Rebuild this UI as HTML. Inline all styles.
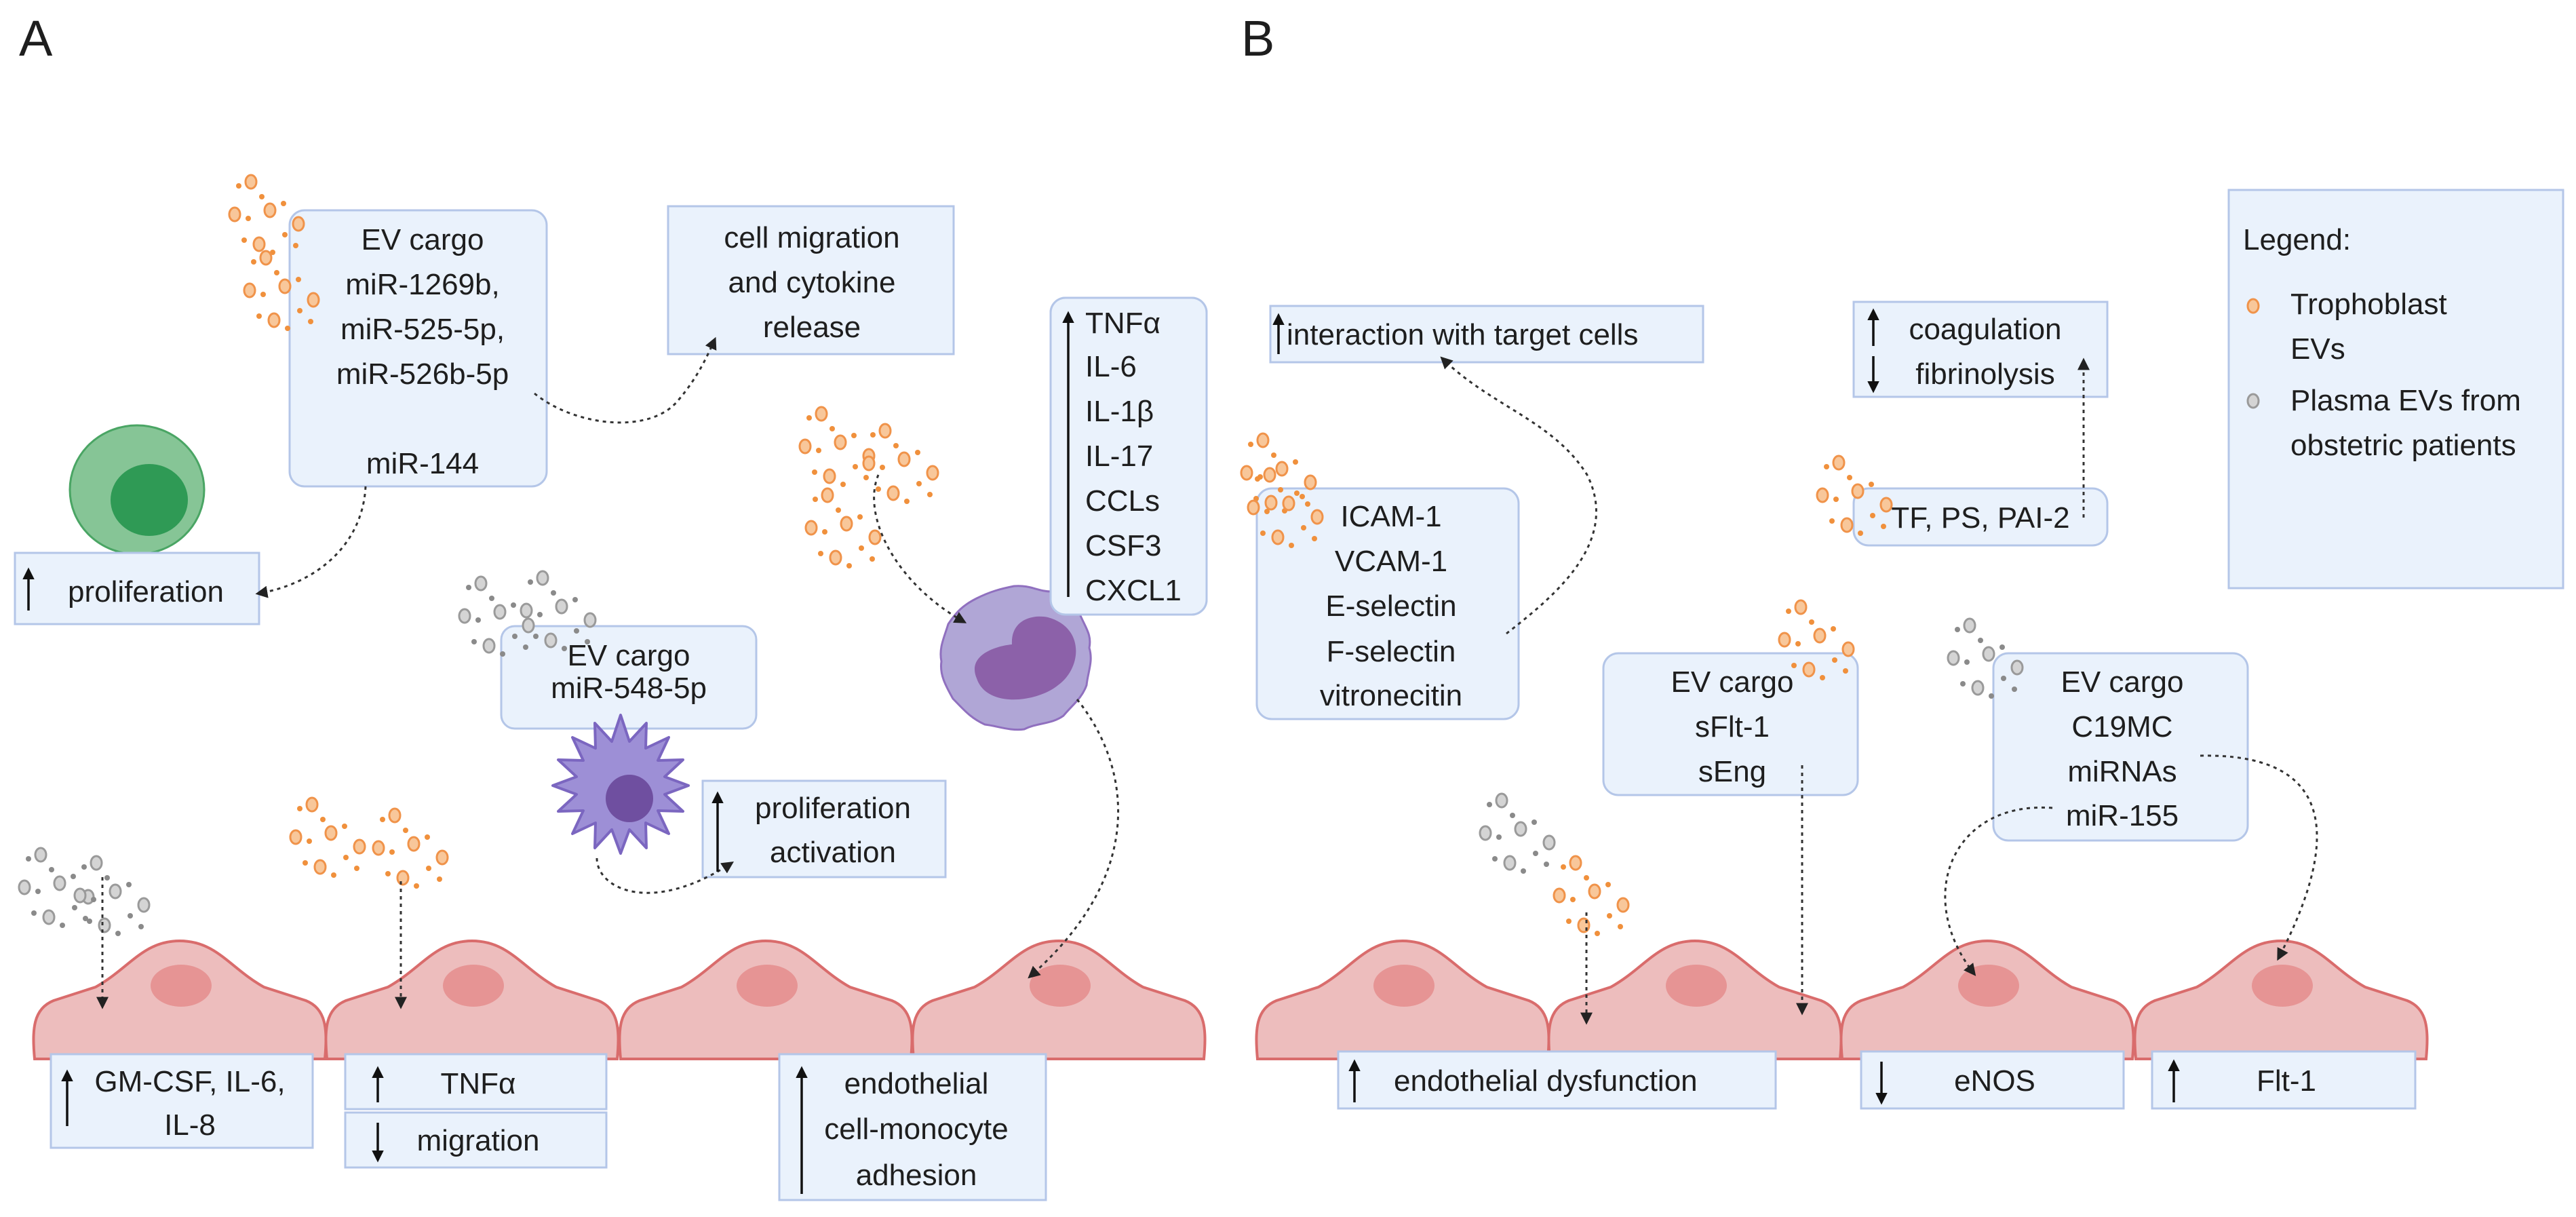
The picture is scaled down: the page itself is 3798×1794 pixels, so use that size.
<!DOCTYPE html>
<html><head><meta charset="utf-8"><style>
html,body{margin:0;padding:0;background:#fff;}
svg{display:block;}
text{font-family:"Liberation Sans",sans-serif;fill:#1e1e1e;}
</style></head><body>
<svg width="3798" height="1794" viewBox="0 0 3798 1794" xmlns="http://www.w3.org/2000/svg">
<defs>
<marker id="ah" viewBox="0 0 10 10" refX="8" refY="5" markerWidth="6" markerHeight="6" orient="auto"><path d="M0,0 L10,5 L0,10 z" fill="#222"/></marker>
<marker id="ar" viewBox="0 0 10 10" refX="8" refY="5" markerWidth="5" markerHeight="5" orient="auto"><path d="M0,0 L10,5 L0,10 z" fill="#111"/></marker>
<g id="oc">
<ellipse cx="30" cy="10" rx="8" ry="10" fill="#f8c79a" stroke="#f0934a" stroke-width="3"/>
<ellipse cx="6" cy="58" rx="8" ry="10" fill="#f8c79a" stroke="#f0934a" stroke-width="3"/>
<ellipse cx="58" cy="52" rx="8" ry="10" fill="#f8c79a" stroke="#f0934a" stroke-width="3"/>
<ellipse cx="100" cy="72" rx="8" ry="10" fill="#f8c79a" stroke="#f0934a" stroke-width="3"/>
<ellipse cx="42" cy="102" rx="8" ry="10" fill="#f8c79a" stroke="#f0934a" stroke-width="3"/>
<circle cx="12" cy="16" r="4" fill="#f0903c"/><circle cx="46" cy="32" r="4" fill="#f0903c"/>
<circle cx="26" cy="64" r="4" fill="#f0903c"/><circle cx="78" cy="42" r="4" fill="#f0903c"/>
<circle cx="80" cy="88" r="4" fill="#f0903c"/><circle cx="62" cy="114" r="4" fill="#f0903c"/>
<circle cx="20" cy="96" r="4" fill="#f0903c"/><circle cx="96" cy="104" r="4" fill="#f0903c"/>
</g>
<g id="gc">
<ellipse cx="30" cy="10" rx="8" ry="10" fill="#d4d4d4" stroke="#9a9a9a" stroke-width="3"/>
<ellipse cx="6" cy="58" rx="8" ry="10" fill="#d4d4d4" stroke="#9a9a9a" stroke-width="3"/>
<ellipse cx="58" cy="52" rx="8" ry="10" fill="#d4d4d4" stroke="#9a9a9a" stroke-width="3"/>
<ellipse cx="100" cy="72" rx="8" ry="10" fill="#d4d4d4" stroke="#9a9a9a" stroke-width="3"/>
<ellipse cx="42" cy="102" rx="8" ry="10" fill="#d4d4d4" stroke="#9a9a9a" stroke-width="3"/>
<circle cx="12" cy="16" r="4" fill="#8a8a8a"/><circle cx="46" cy="32" r="4" fill="#8a8a8a"/>
<circle cx="26" cy="64" r="4" fill="#8a8a8a"/><circle cx="78" cy="42" r="4" fill="#8a8a8a"/>
<circle cx="80" cy="88" r="4" fill="#8a8a8a"/><circle cx="62" cy="114" r="4" fill="#8a8a8a"/>
<circle cx="20" cy="96" r="4" fill="#8a8a8a"/><circle cx="96" cy="104" r="4" fill="#8a8a8a"/>
</g>
<g id="cell">
<path d="M0,174 C-4,130 -2,100 28,88 L90,68 C140,40 160,0 214,0 C268,0 288,40 338,68 L400,88 C430,100 432,130 428,174 Z" fill="#edbdbd" stroke="#d96c6c" stroke-width="4"/>
<ellipse cx="216" cy="66" rx="45" ry="31" fill="#e69494"/>
</g>
</defs>

<text x="28" y="82" font-size="74">A</text>
<text x="1830" y="82" font-size="74">B</text>

<use href="#cell" x="51" y="1387"/>
<use href="#cell" x="482" y="1387"/>
<use href="#cell" x="915" y="1387"/>
<use href="#cell" x="1347" y="1387"/>
<use href="#cell" x="1854" y="1387"/>
<use href="#cell" x="2285" y="1387"/>
<use href="#cell" x="2716" y="1387"/>
<use href="#cell" x="3149" y="1387"/>

<g fill="#eaf2fc" stroke="#b4c6e8" stroke-width="3">
<rect x="427" y="310" width="379" height="407" rx="22"/>
<rect x="985" y="304" width="421" height="218"/>
<rect x="22" y="815" width="360" height="105"/>
<rect x="1549" y="439" width="230" height="467" rx="22"/>
<rect x="739" y="923" width="376" height="151" rx="20"/>
<rect x="1036" y="1151" width="358" height="142"/>
<rect x="75" y="1554" width="386" height="138"/>
<rect x="509" y="1554" width="385" height="81"/>
<rect x="509" y="1640" width="385" height="81"/>
<rect x="1149" y="1554" width="393" height="215"/>
<rect x="1873" y="451" width="638" height="83"/>
<rect x="1853" y="720" width="386" height="340" rx="22"/>
<rect x="2733" y="445" width="374" height="140"/>
<rect x="2733" y="720" width="374" height="84" rx="22"/>
<rect x="3286" y="280" width="493" height="587"/>
<rect x="2364" y="963" width="375" height="209" rx="22"/>
<rect x="2939" y="963" width="375" height="276" rx="22"/>
<rect x="1973" y="1550" width="645" height="84"/>
<rect x="2744" y="1550" width="387" height="84"/>
<rect x="3173" y="1550" width="388" height="84"/>
</g>

<ellipse cx="202" cy="722" rx="99" ry="95" fill="#86c596" stroke="#4aa564" stroke-width="3"/>
<ellipse cx="220" cy="737" rx="57" ry="53" fill="#2f9a55"/>
<rect x="22" y="815" width="360" height="105" fill="#eaf2fc" stroke="#b4c6e8" stroke-width="3"/>

<path d="M1495,864 C1520,862 1530,872 1550,872 C1570,880 1580,892 1592,905 C1600,925 1610,935 1606,955 C1612,975 1604,990 1602,1010 C1595,1030 1580,1040 1568,1055 C1550,1068 1530,1065 1510,1075 C1490,1078 1470,1070 1452,1068 C1430,1058 1420,1045 1405,1030 C1395,1012 1385,995 1388,975 C1384,955 1392,940 1398,920 C1410,902 1420,892 1440,882 C1460,872 1475,868 1495,864 Z" fill="#b0a6d6" stroke="#9070bf" stroke-width="3"/>
<path d="M1440,1000 C1425,965 1470,952 1492,950 C1490,915 1520,905 1545,910 C1600,925 1595,985 1560,1010 C1530,1035 1455,1045 1440,1000 Z" fill="#8c61a9"/>
<rect x="1549" y="439" width="230" height="467" rx="22" fill="#eaf2fc" stroke="#b4c6e8" stroke-width="3"/>

<polygon transform="translate(915,1158)" points="100,0 65,13 92,38 55,37 71,71 37,55 38,92 13,65 0,100 -13,65 -38,92 -37,55 -71,71 -55,37 -92,38 -65,13 -100,0 -65,-13 -92,-38 -55,-37 -71,-71 -37,-55 -38,-92 -13,-65 0,-104 13,-65 38,-92 37,-55 71,-71 55,-37 92,-38 65,-13" fill="#9d8fd6" stroke="#7b66c0" stroke-width="4" stroke-linejoin="round"/>
<circle cx="928" cy="1177" r="35" fill="#6f4fa0"/>

<use href="#oc" x="340" y="258"/><use href="#oc" x="362" y="370"/>
<use href="#oc" x="1181" y="600"/><use href="#oc" x="1275" y="625"/><use href="#oc" x="1190" y="720"/>
<use href="#gc" x="679" y="850"/><use href="#gc" x="770" y="842"/>
<use href="#gc" x="30" y="1250"/><use href="#gc" x="112" y="1262"/>
<use href="#oc" x="430" y="1176"/><use href="#oc" x="552" y="1192"/>
<use href="#oc" x="1832" y="639"/><use href="#oc" x="1842" y="690"/>
<use href="#oc" x="2681" y="672"/>
<use href="#oc" x="2625" y="885"/>
<use href="#gc" x="2874" y="912"/>
<use href="#gc" x="2184" y="1170"/>
<use href="#oc" x="2293" y="1262"/>

<g fill="none" stroke="#333" stroke-width="3" stroke-dasharray="5 6" marker-end="url(#ah)">
<path d="M788,580 C850,630 960,640 1000,590 C1030,555 1045,520 1054,500"/>
<path d="M539,717 C535,800 470,860 380,875"/>
<path d="M1295,700 C1270,760 1320,860 1422,917"/>
<path d="M1588,1031 C1660,1120 1700,1280 1518,1440"/>
<path d="M880,1265 C880,1310 960,1350 1079,1272"/>
<path d="M151,1293 L151,1484"/>
<path d="M591,1299 L591,1484"/>
<path d="M2221,934 C2290,880 2390,800 2340,700 C2290,620 2200,600 2126,528"/>
<path d="M3072,763 L3072,531"/>
<path d="M2657,1128 L2657,1493"/>
<path d="M2339,1345 L2339,1507"/>
<path d="M3026,1191 C2880,1180 2820,1320 2911,1436"/>
<path d="M3244,1114 C3430,1110 3460,1220 3359,1413"/>
</g>

<g font-size="44" text-anchor="middle">
<text x="623" y="368">EV cargo</text>
<text x="623" y="434">miR-1269b,</text>
<text x="623" y="500">miR-525-5p,</text>
<text x="623" y="566">miR-526b-5p</text>
<text x="623" y="698">miR-144</text>
<text x="1197" y="365">cell migration</text>
<text x="1197" y="431">and cytokine</text>
<text x="1197" y="497">release</text>
<text x="215" y="887">proliferation</text>
<text x="927" y="981">EV cargo</text>
<text x="927" y="1029">miR-548-5p</text>
<text x="1228" y="1206">proliferation</text>
<text x="1228" y="1271">activation</text>
<text x="280" y="1609">GM-CSF, IL-6,</text>
<text x="280" y="1673">IL-8</text>
<text x="705" y="1612">TNFα</text>
<text x="705" y="1696">migration</text>
<text x="1351" y="1612">endothelial</text>
<text x="1351" y="1679">cell-monocyte</text>
<text x="1351" y="1747">adhesion</text>
<text x="2051" y="776">ICAM-1</text>
<text x="2051" y="842">VCAM-1</text>
<text x="2051" y="908">E-selectin</text>
<text x="2051" y="975">F-selectin</text>
<text x="2051" y="1040">vitronecitin</text>
<text x="2927" y="500">coagulation</text>
<text x="2927" y="566">fibrinolysis</text>
<text x="2920" y="778">TF, PS, PAI-2</text>
<text x="2554" y="1020">EV cargo</text>
<text x="2554" y="1086">sFlt-1</text>
<text x="2554" y="1152">sEng</text>
<text x="3129" y="1020">EV cargo</text>
<text x="3129" y="1086">C19MC</text>
<text x="3129" y="1152">miRNAs</text>
<text x="3129" y="1217">miR-155</text>
<text x="2941" y="1608">eNOS</text>
<text x="3371" y="1608">Flt-1</text>
</g>
<g font-size="44">
<text x="1600" y="491">TNFα</text>
<text x="1600" y="555">IL-6</text>
<text x="1600" y="621">IL-1β</text>
<text x="1600" y="687">IL-17</text>
<text x="1600" y="753">CCLs</text>
<text x="1600" y="819">CSF3</text>
<text x="1600" y="885">CXCL1</text>
<text x="1897" y="508">interaction with target cells</text>
<text x="2055" y="1608">endothelial dysfunction</text>
<text x="3307" y="368">Legend:</text>
<text x="3377" y="463">Trophoblast</text>
<text x="3377" y="529">EVs</text>
<text x="3377" y="605">Plasma EVs from</text>
<text x="3377" y="671">obstetric patients</text>
</g>
<ellipse cx="3322" cy="451" rx="8" ry="10" fill="#f8c79a" stroke="#f0934a" stroke-width="3"/>
<ellipse cx="3322" cy="591" rx="8" ry="10" fill="#d4d4d4" stroke="#9a9a9a" stroke-width="3"/>

<g stroke="#111" stroke-width="3.5" marker-end="url(#ar)">
<line x1="42" y1="900" x2="42" y2="840"/>
<line x1="1575" y1="880" x2="1575" y2="462"/>
<line x1="1058" y1="1285" x2="1058" y2="1170"/>
<line x1="99" y1="1660" x2="99" y2="1580"/>
<line x1="557" y1="1625" x2="557" y2="1575"/>
<line x1="557" y1="1655" x2="557" y2="1710"/>
<line x1="1182" y1="1760" x2="1182" y2="1575"/>
<line x1="1885" y1="522" x2="1885" y2="465"/>
<line x1="2762" y1="510" x2="2762" y2="458"/>
<line x1="2762" y1="525" x2="2762" y2="576"/>
<line x1="1997" y1="1625" x2="1997" y2="1565"/>
<line x1="2774" y1="1565" x2="2774" y2="1625"/>
<line x1="3205" y1="1625" x2="3205" y2="1565"/>
</g>
</svg>
</body></html>
